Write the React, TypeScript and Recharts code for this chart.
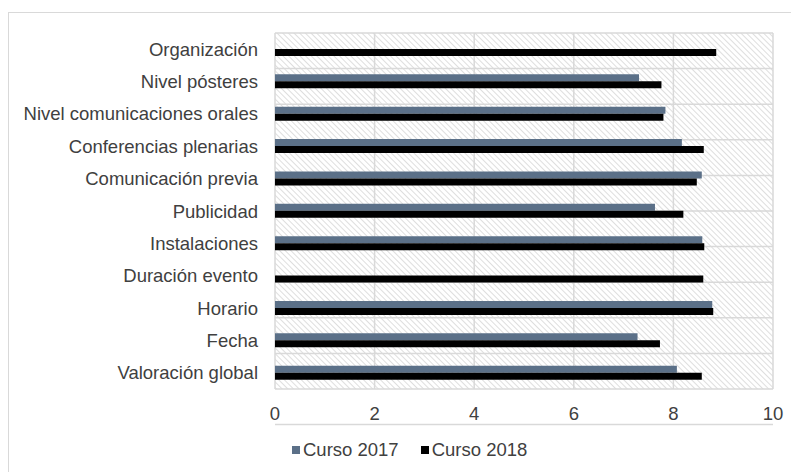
import React from "react"
import { BarChart, Bar, XAxis, YAxis, CartesianGrid, Legend } from "recharts"

const categories = [
  "Organización",
  "Nivel pósteres",
  "Nivel comunicaciones orales",
  "Conferencias plenarias",
  "Comunicación previa",
  "Publicidad",
  "Instalaciones",
  "Duración evento",
  "Horario",
  "Fecha",
  "Valoración global",
]

const curso2017 = [null, 7.31, 7.84, 8.17, 8.57, 7.63, 8.58, null, 8.78, 7.28, 8.07]
const curso2018 = [8.86, 7.76, 7.8, 8.61, 8.47, 8.2, 8.62, 8.6, 8.8, 7.73, 8.57]

const xTicks = [0, 2, 4, 6, 8, 10]
const bandEdges = [0, 1, 2, 3, 4, 5, 6, 7, 8, 9, 10, 11]

const COLOR_2017 = "#5b7088"
const COLOR_2018 = "#000000"
const GRID = "#d9d9d9"
const TEXT = "#404040"
const FONT = "'Liberation Sans', Arial, sans-serif"
const FS = 18.5

const data = categories.map((name, i) => ({
  name,
  c2017: curso2017[i],
  c2018: curso2018[i],
}))

const LegendContent = () => (
  <div style={{ display: "flex", alignItems: "center", fontFamily: FONT, fontSize: FS, color: TEXT, lineHeight: "20px", whiteSpace: "nowrap" }}>
    {[
      { label: "Curso 2017", color: COLOR_2017 },
      { label: "Curso 2018", color: COLOR_2018 },
    ].map((item) => (
      <span key={item.label} style={{ display: "flex", alignItems: "center", marginRight: 22, flexShrink: 0 }}>
        <span
          style={{
            display: "inline-block",
            width: 8,
            height: 8,
            minWidth: 8,
            flexShrink: 0,
            background: item.color,
            marginRight: 3,
          }}
        />
        {item.label}
      </span>
    ))}
  </div>
)

export default function App() {
  return (
    <div style={{ position: "absolute", left: 0, top: 0, width: 791, height: 472, background: "#fff", overflow: "hidden" }}>
      <div
        style={{
          position: "absolute",
          left: 8,
          top: 12,
          width: 800,
          height: 480,
          border: `1px solid ${GRID}`,
          boxSizing: "border-box",
        }}
      />
      <div style={{ position: "absolute", left: 0, top: 0 }}>
        <BarChart
          width={791}
          height={472}
          data={data}
          layout="vertical"
          margin={{ top: 33, right: 18, bottom: 53, left: 0 }}
          barGap={0}
          barSize={7}
          style={{ fontFamily: FONT }}
        >
          <defs>
            <pattern id="hatch" width="4" height="4" patternUnits="userSpaceOnUse" patternTransform="rotate(-45)">
              <rect width="4" height="4" fill="#ffffff" />
              <line x1="0" y1="0" x2="0" y2="4" stroke="#d6d6d6" strokeWidth="1.6" />
            </pattern>
          </defs>
          <CartesianGrid horizontal={false} stroke={GRID} strokeWidth={1.5} fill="url(#hatch)" fillOpacity={1} />
          <CartesianGrid vertical={false} yAxisId="grid" stroke={GRID} strokeWidth={1.5} />
          <XAxis
            type="number"
            domain={[0, 10]}
            ticks={xTicks}
            height={30}
            axisLine={false}
            tickLine={false}
            tickSize={0}
            tickMargin={18}
            tick={{ fill: TEXT, fontSize: FS }}
            interval={0}
          />
          <YAxis
            yAxisId="grid"
            type="number"
            domain={[0, 11]}
            ticks={bandEdges}
            width={0}
            tickSize={7}
            tickLine={{ stroke: GRID, strokeWidth: 1.5 }}
            axisLine={{ stroke: GRID, strokeWidth: 1.5 }}
            tick={() => <g />}
            interval={0}
          />
          <YAxis
            yAxisId="cat"
            type="category"
            dataKey="name"
            width={275}
            axisLine={false}
            tickLine={false}
            tickSize={0}
            tickMargin={17}
            tick={{ fill: TEXT, fontSize: FS }}
            interval={0}
          />
          <Legend
            verticalAlign="middle"
            align="center"
            layout="horizontal"
            content={<LegendContent />}
            wrapperStyle={{ top: 440, left: 292, width: 320, height: 20 }}
          />
          <Bar yAxisId="cat" dataKey="c2017" name="Curso 2017" fill={COLOR_2017} isAnimationActive={false} />
          <Bar yAxisId="cat" dataKey="c2018" name="Curso 2018" fill={COLOR_2018} isAnimationActive={false} />
        </BarChart>
      </div>
    </div>
  )
}
